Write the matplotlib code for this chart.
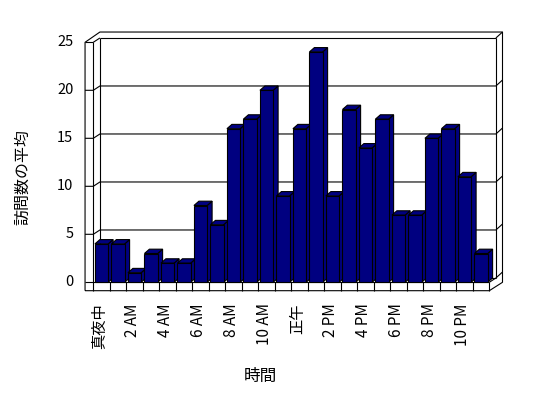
import numpy as np
import matplotlib
matplotlib.use('Agg')
import matplotlib.pyplot as plt
from matplotlib.patches import Polygon

plt.rcParams['font.family'] = ['Noto Sans CJK JP', 'DejaVu Sans']

# average visits per hour (0:00 .. 23:00)
visits = [4, 4, 1, 3, 2, 2, 8, 6, 16, 17, 20, 9, 16, 24, 9, 18, 14, 17, 7, 7, 15, 16, 11, 3]
hour_labels = ['真夜中', '2 AM', '4 AM', '6 AM', '8 AM', '10 AM',
               '正午', '2 PM', '4 PM', '6 PM', '8 PM', '10 PM']
y_ticks = [0, 5, 10, 15, 20, 25]
y_title = '訪問数の平均'
x_title = '時間'

# layout (pixels of the 548x398 image)
W, H = 548, 398
X0, SLOT = 93.3, 16.5      # left of floor front edge, width of one hour slot
Y0, UNIT = 282.3, 9.6      # floor front edge, pixels per visit

n = len(visits)
top = y_ticks[-1]
dx, dy = 0.4, 0.45         # depth of the floor / side wall
ox, oy = 0.4, 0.62         # thickness of the back wall
sx = -0.5                  # outer edge of the left wall
th = 0.875                 # floor thickness
bdx, bdy = 0.3, 0.45       # depth of a bar

fig = plt.figure(figsize=(W / 100, H / 100), dpi=100)
ax = fig.add_axes([0, 0, 1, 1])
ax.set_xlim(-X0 / SLOT, (W - X0) / SLOT)
ax.set_ylim((Y0 - H) / UNIT, Y0 / UNIT)
ax.axis('off')


def seg(xs, ys):
    ax.plot(xs, ys, color='black', lw=0.8, solid_capstyle='butt', zorder=1)


# walls and floor
seg([sx, sx, dx, n + dx + ox, n + dx + ox, n, sx],
    [-th, top, top + dy + oy, top + dy + oy, 0, -th, -th])
seg([sx, 0], [top, top])
seg([0, 0], [0, top])
seg([0, dx], [top, top + dy])
seg([dx, n + dx], [top + dy, top + dy])
seg([dx, dx], [dy, top + dy])
seg([n + dx, n + dx], [dy, top + dy])
seg([n + dx, n + dx + ox], [top + dy, top + dy + oy])
seg([sx, n], [0, 0])
seg([dx, n + dx], [dy, dy])
seg([n, n + dx], [0, dy])
seg([n + dx, n + dx + ox], [dy, dy + oy])
for g in y_ticks[1:-1]:
    seg([sx, 0, dx, n + dx, n + dx + ox], [g, g, g + dy, g + dy, g + dy + oy])
for j in range(n + 1):
    seg([j, j], [-th, 0])

# bars
navy = '#000080'
rects = ax.bar(np.arange(n) + 0.1, visits, width=0.8, align='edge',
               color=navy, edgecolor='black', linewidth=0.8)
for i, (r, v) in enumerate(zip(rects, visits)):
    x0, x1 = i + 0.1, i + 0.9
    z = 3 + 3 * i
    side = Polygon([(x1, 0), (x1, v), (x1 + bdx, v + bdy), (x1 + bdx, bdy)],
                   closed=True, facecolor=navy, edgecolor='black', lw=0.8, zorder=z)
    cap = Polygon([(x0, v), (x0 + bdx, v + bdy), (x1 + bdx, v + bdy), (x1, v)],
                  closed=True, facecolor=navy, edgecolor='black', lw=0.8, zorder=z + 1)
    ax.add_patch(side)
    ax.add_patch(cap)
    r.set_zorder(z + 2)

# texts
for g in y_ticks:
    ax.text(-1.21, g, str(g), ha='right', va='center', fontsize=10.5)
for k, lab in enumerate(hour_labels):
    ax.text(2 * k + 0.4, -th - 1.3, lab, rotation=90, ha='center', va='top', fontsize=11)
ax.text(-4.29, 11.0, y_title, rotation=90, ha='center', va='center', fontsize=11.5)
ax.text(10.1, -9.76, x_title, ha='center', va='center', fontsize=12)

fig.savefig('out.png', dpi=100)
